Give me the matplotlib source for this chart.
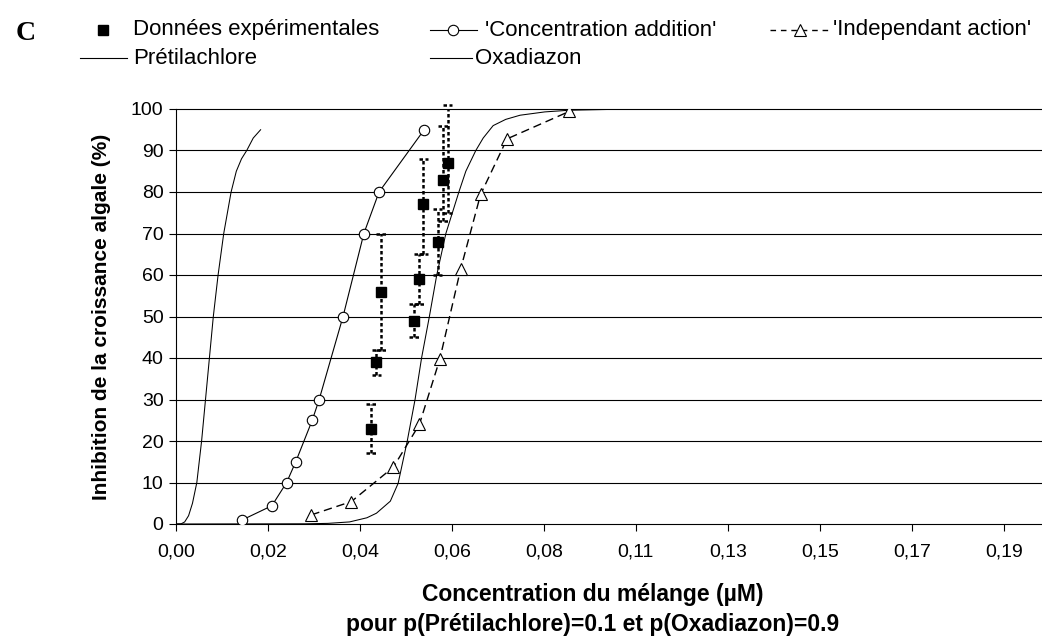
import matplotlib
matplotlib.use("Agg")
import matplotlib.pyplot as plt

plt.rcParams['font.family'] = ['Liberation Sans', 'DejaVu Sans']

# 'Concentration addition' model (circles)
ca_x = [0.0153, 0.0221, 0.0255, 0.0276, 0.0314, 0.0330, 0.0385, 0.0433, 0.0468, 0.0572]
ca_y = [1, 4.4, 10, 15, 25, 30, 50, 70, 80, 95]

# 'Independant action' model (triangles)
ia_x = [0.0312, 0.0404, 0.0501, 0.0561, 0.0608, 0.0656, 0.0702, 0.0763, 0.0906]
ia_y = [2.2, 5.4, 13.7, 24, 39.7, 61.4, 79.4, 92.8, 99.4]

# experimental data with error bars
exp_x = [0.0449, 0.0462, 0.0473, 0.0548, 0.0560, 0.0570, 0.0603, 0.0615, 0.0626]
exp_y = [23, 39, 56, 49, 59, 77, 68, 83, 87]
exp_lo = [17, 36, 42, 45, 53, 65, 60, 73, 75]
exp_hi = [29, 42, 70, 53, 65, 88, 76, 96, 101]

# single substance curves
pret_x = [0, 0.0012, 0.0020, 0.0029, 0.0038, 0.0048, 0.0059, 0.0068, 0.0077, 0.0086,
          0.0097, 0.0110, 0.0127, 0.0139, 0.0151, 0.0163, 0.0178, 0.0195]
pret_y = [0, 0.05, 0.5, 2, 5, 10, 20, 30, 40, 50, 60, 70, 80, 85, 88, 90, 93, 95]

oxa_x = [0, 0.030, 0.035, 0.040, 0.044, 0.0462, 0.0494, 0.0512, 0.0533, 0.0551, 0.0566,
         0.0584, 0.0601, 0.0622, 0.0652, 0.0668, 0.0691, 0.0708, 0.0731, 0.0760, 0.0793,
         0.0850, 0.0906, 0.1000, 0.1996]
oxa_y = [0, 0.05, 0.15, 0.5, 1.5, 2.6, 5.5, 9.8, 20, 30, 40, 50, 60, 70, 80, 85, 90, 93,
         96, 97.5, 98.5, 99.3, 99.7, 99.9, 100]

x_tick_labels = ['0,00', '0,02', '0,04', '0,06', '0,08', '0,11', '0,13', '0,15', '0,17', '0,19']
x_step = 0.0212
y_ticks = [0, 10, 20, 30, 40, 50, 60, 70, 80, 90, 100]

W, H = 1042, 638
fig = plt.figure(figsize=(W / 100, H / 100), dpi=100)
ax = fig.add_axes([176 / W, 1 - 524 / H, 866 / W, 415 / H])

# grid
for g in y_ticks[1:]:
    ax.axhline(g, color='black', lw=0.8, zorder=1, clip_on=False)

# curves
ax.plot(pret_x, pret_y, color='black', lw=0.75, zorder=2)
ax.plot(oxa_x, oxa_y, color='black', lw=0.75, zorder=2)
ax.plot(ca_x, ca_y, color='black', lw=0.8, marker='o', ms=7.5,
        mfc='white', mec='black', mew=0.8, zorder=4)
ax.plot(ia_x, ia_y, color='black', lw=1.0, dashes=(6, 3.5), marker='^', ms=8,
        mfc='white', mec='black', mew=0.8, zorder=4)

# error bars (dotted)
cap = 0.0011
dot = (0, (1.4, 1.0))
ax.vlines(exp_x, exp_lo, exp_hi, colors='black', lw=1.8, linestyles=dot, zorder=3)
ax.hlines(exp_lo, [x - cap for x in exp_x], [x + cap for x in exp_x], colors='black',
          lw=1.8, linestyles=dot, zorder=3)
ax.hlines(exp_hi, [x - cap for x in exp_x], [x + cap for x in exp_x], colors='black',
          lw=1.8, linestyles=dot, zorder=3, clip_on=False)
ax.plot(exp_x, exp_y, linestyle='none', marker='s', ms=7.5, color='black', zorder=5)

ax.set_xlim(0, 0.1996)
ax.set_ylim(0, 100)
ax.set_xticks([i * x_step for i in range(len(x_tick_labels))])
ax.set_xticklabels(x_tick_labels)
ax.set_yticks(y_ticks)
ax.tick_params(axis='both', direction='out', length=5, width=0.8, labelsize=14, color='black')
ax.tick_params(axis='x', pad=9)
ax.tick_params(axis='y', pad=4)
for s in ['top', 'right']:
    ax.spines[s].set_visible(False)
for s in ['left', 'bottom']:
    ax.spines[s].set_linewidth(0.8)

ax.set_ylabel('Inhibition de la croissance algale (%)', fontsize=15, fontweight='bold', labelpad=14)
fig.text(593 / W, 1 - 595 / H, 'Concentration du mélange (µM)', ha='center', va='center',
         fontsize=16.5, fontweight='bold')
fig.text(593 / W, 1 - 625 / H, 'pour p(Prétilachlore)=0.1 et p(Oxadiazon)=0.9', ha='center',
         va='center', fontsize=16.5, fontweight='bold')

# legend drawn in pixel coordinates
lax = fig.add_axes([0, 0, 1, 1], facecolor='none')
lax.set_xlim(0, W)
lax.set_ylim(H, 0)
lax.axis('off')
lax.text(16, 33, 'C', fontsize=20, fontweight='bold', family=['Liberation Serif', 'DejaVu Serif'],
         va='center', ha='left')
r1, r2 = 30, 58
fs = 16
lax.plot([103], [r1], marker='s', ms=7.5, color='black')
lax.text(133, r1, 'Données expérimentales', fontsize=fs, va='center')
lax.plot([430, 477], [r1, r1], color='black', lw=0.8)
lax.plot([453], [r1], marker='o', ms=7.5, mfc='white', mec='black', mew=0.8)
lax.text(485, r1, "'Concentration addition'", fontsize=fs, va='center')
lax.plot([770, 830], [r1, r1], color='black', lw=1.0, dashes=(4, 3.5))
lax.plot([800], [r1], marker='^', ms=8, mfc='white', mec='black', mew=0.8)
lax.text(833, r1, "'Independant action'", fontsize=fs, va='center')
lax.plot([80, 127], [r2, r2], color='black', lw=0.8)
lax.text(133, r2, 'Prétilachlore', fontsize=fs, va='center')
lax.plot([430, 472], [r2, r2], color='black', lw=0.8)
lax.text(475, r2, 'Oxadiazon', fontsize=fs, va='center')

fig.savefig('out.png', dpi=100)
